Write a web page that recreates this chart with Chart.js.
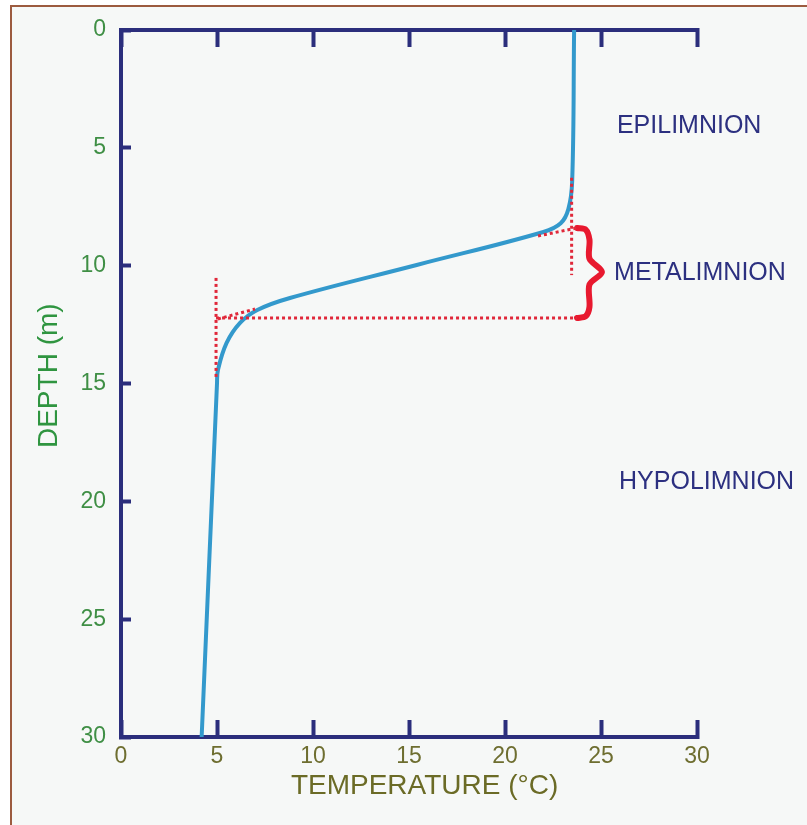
<!DOCTYPE html>
<html>
<head>
<meta charset="utf-8">
<script src="https://cdn.jsdelivr.net/npm/chart.js@4.4.0/dist/chart.umd.min.js"></script>
<style>
  html, body { margin: 0; padding: 0; background: #ffffff; overflow: hidden; }
  #frame {
    position: absolute; left: 10px; top: 5px; width: 797px; height: 820px;
    box-sizing: border-box;
    border-left: 2px solid #9c5b3f; border-top: 2px solid #9c5b3f;
    background: #f6f8f7;
  }
  #chart { position: absolute; left: 0; top: 0; }
</style>
</head>
<body>
<div id="frame"></div>
<canvas id="chart" width="807" height="825"></canvas>
<script>
// axis range (both axes 0..30, step 5)
const axisMin = 0;
const axisMax = 30;
const axisStep = 5;

// temperature profile
const profileTemp  = [23.6, 23.5, 23.3, 22.9, 22.0, 15.4, 8.8, 7.1, 6.2, 5.5, 5.05, 5.0, 4.2];
const profileDepth = [0, 6.4, 7.6, 8.2, 8.57, 9.97, 11.37, 11.88, 12.43, 13.28, 14.43, 15.0, 30];

// red dotted construction lines (start -> end)
const guideStartT = [23.47, 21.72, 4.95, 4.95, 5.05];
const guideStartD = [6.27, 8.74, 10.52, 12.22, 12.26];
const guideEndT   = [23.47, 23.75, 4.95, 23.75, 6.98];
const guideEndD   = [10.4, 8.4, 14.72, 12.22, 11.84];

// brace marking the metalimnion
const braceTemp  = [23.75, 24.2, 24.4, 24.4, 25.05, 24.4, 24.4, 24.2, 23.75];
const braceDepth = [8.4, 8.47, 8.9, 9.7, 10.27, 10.8, 11.75, 12.15, 12.22];

// layer names
const zoneNames = ['EPILIMNION', 'METALIMNION', 'HYPOLIMNION'];
const zoneTemp  = [25.83, 25.68, 25.94];
const zoneDepth = [4.07, 10.31, 19.18];

const navy = '#2b2e7c';
const fontFamily = '"Liberation Sans", Arial, sans-serif';

const toPoints = (xs, ys) => xs.map((v, i) => ({ x: v, y: ys[i] }));

const guideSets = guideStartT.map((t, i) => ({
  data: toPoints([t, guideEndT[i]], [guideStartD[i], guideEndD[i]]),
  showLine: true,
  borderColor: '#e0283a',
  borderWidth: 3,
  borderDash: [3, 3],
  pointRadius: 0,
  tension: 0
}));

const datasets = [
  ...guideSets,
  {
    data: toPoints(braceTemp, braceDepth),
    showLine: true,
    borderColor: '#e8192f',
    borderWidth: 6,
    borderCapStyle: 'round',
    pointRadius: 0,
    tension: 0.3
  },
  {
    data: toPoints(profileTemp, profileDepth),
    showLine: true,
    borderColor: '#3399cc',
    borderWidth: 4,
    pointRadius: 0,
    tension: 0.4
  }
];

// ticks that point into the plot (negative tick length)
function inwardTicks(len) {
  return { display: true, drawOnChartArea: false, drawTicks: true, tickLength: len, tickWidth: 4, tickColor: navy };
}
const axisBorder = { display: true, color: navy, width: 4 };

const zoneLabels = {
  id: 'zoneLabels',
  afterDatasetsDraw(chart) {
    const { ctx, scales: { x, y } } = chart;
    ctx.save();
    ctx.font = '25px ' + fontFamily;
    ctx.fillStyle = '#2c3080';
    ctx.textAlign = 'left';
    ctx.textBaseline = 'middle';
    zoneNames.forEach((name, i) => {
      ctx.fillText(name, x.getPixelForValue(zoneTemp[i]), y.getPixelForValue(zoneDepth[i]));
    });
    ctx.restore();
  }
};

new Chart(document.getElementById('chart'), {
  type: 'scatter',
  data: { datasets },
  plugins: [zoneLabels],
  options: {
    responsive: false,
    animation: false,
    events: [],
    layout: { padding: { left: 0, top: 0, right: 110, bottom: 0 } },
    plugins: { legend: { display: false }, tooltip: { enabled: false } },
    scales: {
      x: {
        type: 'linear', position: 'bottom', min: axisMin, max: axisMax,
        ticks: { stepSize: axisStep, padding: 23, color: '#6e6e30', font: { family: fontFamily, size: 23 } },
        grid: inwardTicks(-17),
        border: axisBorder,
        title: {
          display: true, text: '    TEMPERATURE (°C)', color: '#6b6b26',
          font: { family: fontFamily, size: 28 }, padding: { top: 0, bottom: 22 }
        },
        afterFit(s) { s.height = 88; }
      },
      xTop: {
        axis: 'x', type: 'linear', position: 'top', min: axisMin, max: axisMax,
        ticks: { stepSize: axisStep, display: false },
        grid: inwardTicks(-17),
        border: axisBorder,
        afterFit(s) { s.height = 30; }
      },
      y: {
        type: 'linear', position: 'left', reverse: true, min: axisMin, max: axisMax,
        ticks: { stepSize: axisStep, padding: 25, color: '#3f8f45', font: { family: fontFamily, size: 23 } },
        grid: inwardTicks(-10),
        border: axisBorder,
        title: {
          display: true, text: '  DEPTH (m)', color: '#2f9540',
          font: { family: fontFamily, size: 28 }, padding: { top: 32, bottom: 0 }
        },
        afterFit(s) {
          s.width = 121;
          s.paddingTop = 14;
          s.paddingBottom = 14;
        }
      }
    }
  }
});
</script>
</body>
</html>
